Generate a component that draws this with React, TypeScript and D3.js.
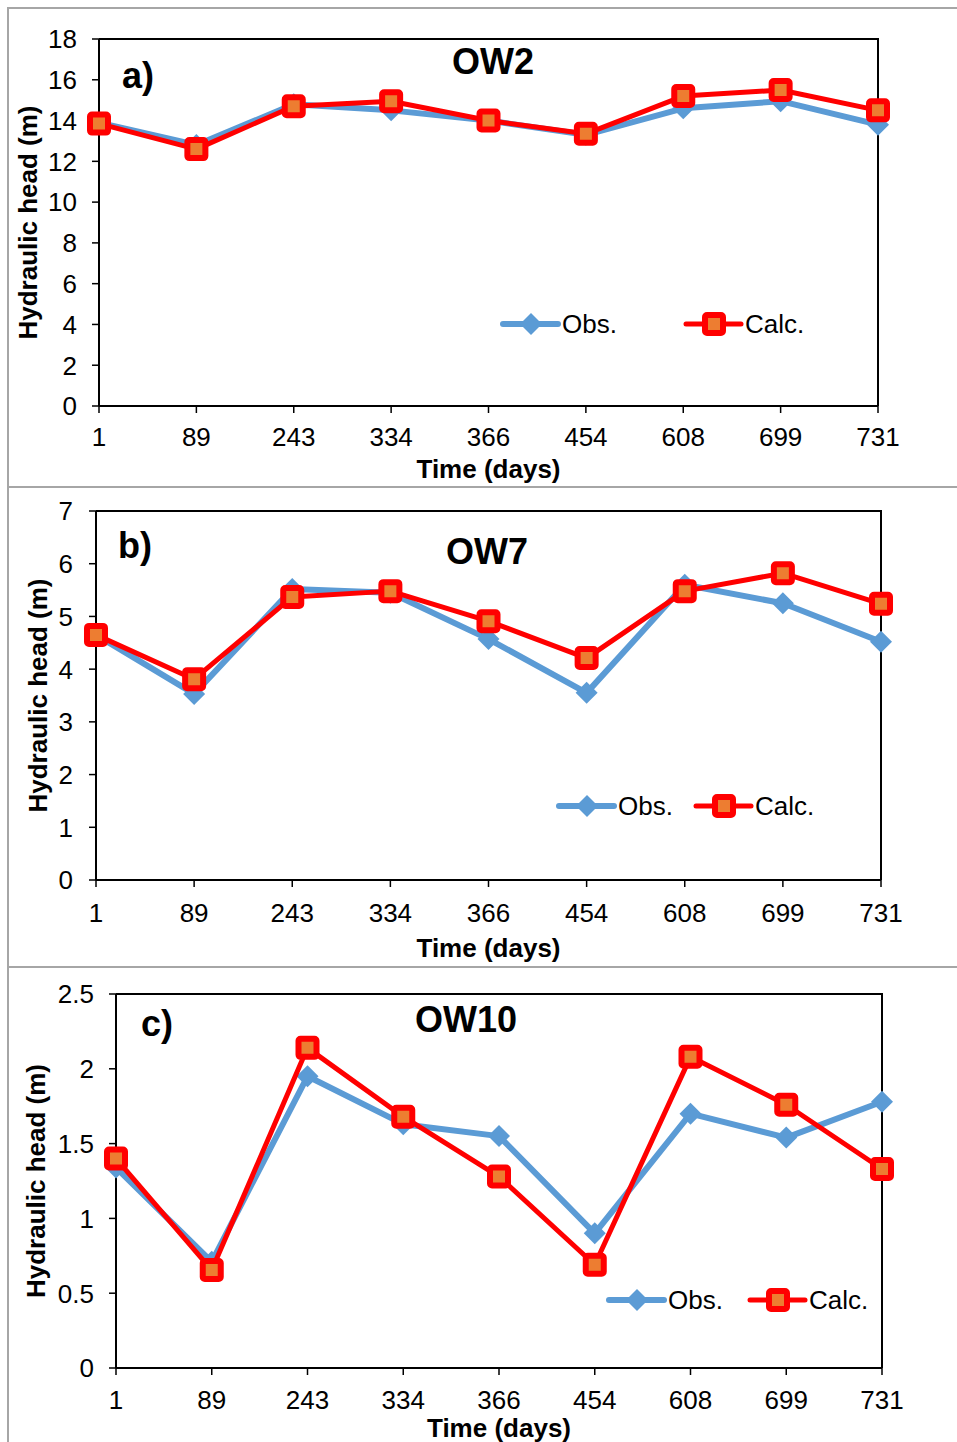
import React from "react";
import * as d3 from "d3";

const days = ["1", "89", "243", "334", "366", "454", "608", "699", "731"];

const ow2Obs = [13.9, 12.8, 14.8, 14.5, 14.0, 13.3, 14.6, 14.95, 13.8];
const ow2Calc = [13.85, 12.6, 14.7, 14.95, 14.0, 13.35, 15.2, 15.5, 14.5];
const ow2Ticks = [0, 2, 4, 6, 8, 10, 12, 14, 16, 18];

const ow7Obs = [4.65, 3.53, 5.52, 5.45, 4.57, 3.55, 5.6, 5.25, 4.52];
const ow7Calc = [4.65, 3.81, 5.37, 5.48, 4.91, 4.21, 5.48, 5.82, 5.24];
const ow7Ticks = [0, 1, 2, 3, 4, 5, 6, 7];

const ow10Obs = [1.34, 0.71, 1.95, 1.63, 1.55, 0.9, 1.7, 1.54, 1.78];
const ow10Calc = [1.4, 0.655, 2.14, 1.68, 1.28, 0.69, 2.08, 1.76, 1.33];
const ow10Ticks = [0, 0.5, 1, 1.5, 2, 2.5];

const OBS = "#5B9BD5";
const CALC = "#FF0000";
const CALC_FILL = "#ED7D31";
const FONT = "'Liberation Sans', Arial, sans-serif";

type Layout = {
  left: number; right: number; top: number; bottom: number;
  yLabRight: number; xLabY: number; xTitleY: number; yTitleX: number;
  title: string; titleX: number; titleY: number;
  tag: string; tagX: number; tagY: number;
  legY: number; obsL: number; calcL: number;
};

const panels = [
  {
    obs: ow2Obs, calc: ow2Calc, ticks: ow2Ticks,
    lay: { left: 99, right: 878, top: 39, bottom: 406, yLabRight: 77, xLabY: 437, xTitleY: 469, yTitleX: 28,
      title: "OW2", titleX: 493, titleY: 61, tag: "a)", tagX: 122, tagY: 75, legY: 324, obsL: 503, calcL: 686 } as Layout,
  },
  {
    obs: ow7Obs, calc: ow7Calc, ticks: ow7Ticks,
    lay: { left: 96, right: 881, top: 511, bottom: 880, yLabRight: 73, xLabY: 913, xTitleY: 948, yTitleX: 38,
      title: "OW7", titleX: 487, titleY: 551, tag: "b)", tagX: 118, tagY: 545, legY: 806, obsL: 559, calcL: 696 } as Layout,
  },
  {
    obs: ow10Obs, calc: ow10Calc, ticks: ow10Ticks,
    lay: { left: 116, right: 882, top: 994, bottom: 1368, yLabRight: 94, xLabY: 1400, xTitleY: 1428, yTitleX: 36,
      title: "OW10", titleX: 466, titleY: 1019, tag: "c)", tagX: 141, tagY: 1023, legY: 1300, obsL: 609, calcL: 750 } as Layout,
  },
];

function Diamond({ x, y }: { x: number; y: number }) {
  const r = 11;
  return <path d={`M${x},${y - r}L${x + r},${y}L${x},${y + r}L${x - r},${y}Z`} fill={OBS} />;
}

function Square({ x, y }: { x: number; y: number }) {
  const s = 18;
  return (
    <rect x={x - s / 2} y={y - s / 2} width={s} height={s} rx={2} fill={CALC_FILL} stroke={CALC} strokeWidth={6} strokeLinejoin="round" />
  );
}

function Panel({ obs, calc, ticks, lay }: { obs: number[]; calc: number[]; ticks: number[]; lay: Layout }) {
  const x = d3.scalePoint<string>().domain(days).range([lay.left, lay.right]);
  const y = d3.scaleLinear().domain([ticks[0], ticks[ticks.length - 1]]).range([lay.bottom, lay.top]);
  const line = d3.line<number>().x((_, i) => x(days[i]) as number).y((v) => y(v));
  const cy = (lay.top + lay.bottom) / 2;
  return (
    <g fontFamily={FONT}>
      {/* frame */}
      <path d={`M${lay.left},${lay.top}H${lay.right}V${lay.bottom}`} fill="none" stroke="#000" strokeWidth={2} />
      <line x1={lay.left} x2={lay.left} y1={lay.top} y2={lay.bottom} stroke="#000" strokeWidth={2} />
      <line x1={lay.left} x2={lay.right} y1={lay.bottom} y2={lay.bottom} stroke="#000" strokeWidth={2} />
      {ticks.map((t) => (
        <g key={t}>
          <line x1={lay.left - 7} x2={lay.left} y1={y(t)} y2={y(t)} stroke="#000" strokeWidth={1.5} />
          <text x={lay.yLabRight} y={y(t)} dy="0.36em" textAnchor="end" fontSize={26} fill="#000">{String(t)}</text>
        </g>
      ))}
      {days.map((d) => (
        <g key={d}>
          <line x1={x(d)} x2={x(d)} y1={lay.bottom} y2={lay.bottom + 7} stroke="#000" strokeWidth={1.5} />
          <text x={x(d)} y={lay.xLabY} dy="0.36em" textAnchor="middle" fontSize={26} fill="#000">{d}</text>
        </g>
      ))}
      <text x={(lay.left + lay.right) / 2} y={lay.xTitleY} dy="0.36em" textAnchor="middle" fontSize={26} fontWeight="bold">Time (days)</text>
      <text transform={`translate(${lay.yTitleX},${cy}) rotate(-90)`} dy="0.36em" textAnchor="middle" fontSize={26} fontWeight="bold">Hydraulic head (m)</text>
      <text x={lay.titleX} y={lay.titleY} dy="0.36em" textAnchor="middle" fontSize={36} fontWeight="bold">{lay.title}</text>
      <text x={lay.tagX} y={lay.tagY} dy="0.36em" fontSize={36} fontWeight="bold">{lay.tag}</text>
      {/* series */}
      <path d={line(obs) as string} fill="none" stroke={OBS} strokeWidth={6} strokeLinejoin="round" />
      {obs.map((v, i) => <Diamond key={i} x={x(days[i]) as number} y={y(v)} />)}
      <path d={line(calc) as string} fill="none" stroke={CALC} strokeWidth={5} strokeLinejoin="round" />
      {calc.map((v, i) => <Square key={i} x={x(days[i]) as number} y={y(v)} />)}
      {/* legend */}
      <line x1={lay.obsL} x2={lay.obsL + 55} y1={lay.legY} y2={lay.legY} stroke={OBS} strokeWidth={6} strokeLinecap="round" />
      <Diamond x={lay.obsL + 28} y={lay.legY} />
      <text x={lay.obsL + 59} y={lay.legY} dy="0.36em" fontSize={26}>Obs.</text>
      <line x1={lay.calcL} x2={lay.calcL + 55} y1={lay.legY} y2={lay.legY} stroke={CALC} strokeWidth={5} strokeLinecap="round" />
      <Square x={lay.calcL + 28} y={lay.legY} />
      <text x={lay.calcL + 59} y={lay.legY} dy="0.36em" fontSize={26}>Calc.</text>
    </g>
  );
}

export default function App() {
  return (
    <svg width={957} height={1442} style={{ position: "absolute", left: 0, top: 0, background: "#fff" }}>
      <rect x={0} y={0} width={957} height={1442} fill="#fff" />
      <path d="M8,1442V8H957" fill="none" stroke="#A6A6A6" strokeWidth={2} />
      <line x1={8} x2={957} y1={487} y2={487} stroke="#A6A6A6" strokeWidth={2} />
      <line x1={8} x2={957} y1={967} y2={967} stroke="#A6A6A6" strokeWidth={2} />
      {panels.map((p, i) => (
        <Panel key={i} obs={p.obs} calc={p.calc} ticks={p.ticks} lay={p.lay} />
      ))}
    </svg>
  );
}
